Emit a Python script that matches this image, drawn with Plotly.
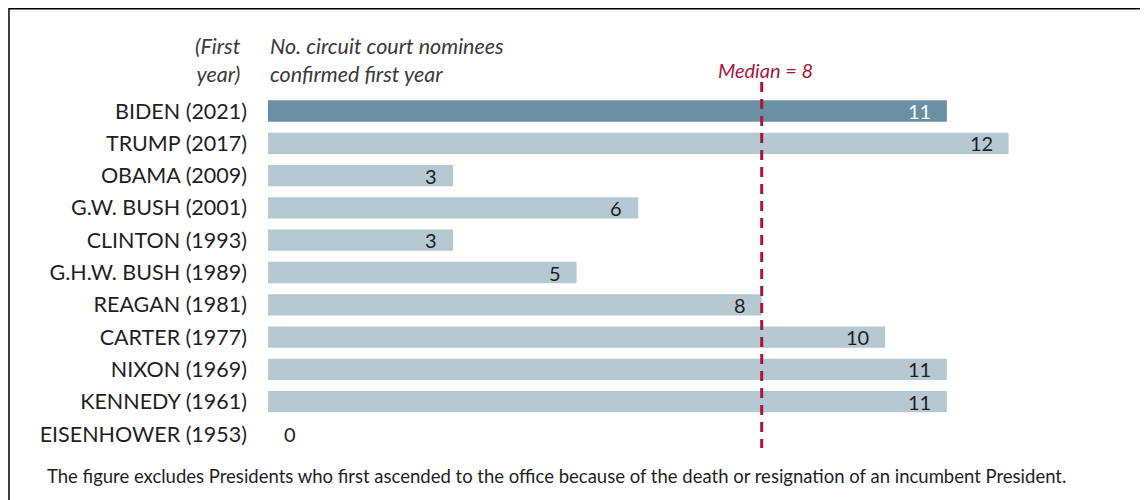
import plotly.graph_objects as go

presidents = ["BIDEN (2021)", "TRUMP (2017)", "OBAMA (2009)", "G.W. BUSH (2001)",
              "CLINTON (1993)", "G.H.W. BUSH (1989)", "REAGAN (1981)", "CARTER (1977)",
              "NIXON (1969)", "KENNEDY (1961)", "EISENHOWER (1953)"]
confirmed = [11, 12, 3, 6, 3, 5, 8, 10, 11, 11, 0]
median_value = 8

highlight = "BIDEN (2021)"
FONT = "Lato"
DARK = "#1F1F1F"
HEAD = "#3A3A3A"
RED = "#A6173A"

colors = ["#6B8FA3" if p == highlight else "#B6C8D2" for p in presidents]

fig = go.Figure()
fig.add_trace(go.Bar(
    x=confirmed, y=presidents, orientation="h",
    marker=dict(color=colors, line=dict(width=0)),
    width=0.66, hoverinfo="x+y",
))

# value labels
for p, v in zip(presidents, confirmed):
    if v == 0:
        fig.add_annotation(x=v, y=p, text=str(v), showarrow=False, xanchor="center",
                           xshift=22, font=dict(family=FONT, size=20, color=DARK))
    else:
        fig.add_annotation(x=v, y=p, text=str(v), showarrow=False, xanchor="right",
                           xshift=-14, font=dict(family=FONT, size=20,
                                                 color="white" if p == highlight else DARK))

# median line
fig.add_shape(type="line", x0=median_value, x1=median_value, y0=-0.9, y1=10.43,
              xref="x", yref="y", line=dict(color=RED, width=3, dash="10px,7px"))
fig.add_annotation(x=median_value, y=-1.27, text=f"<i>Median = {median_value}</i>",
                   showarrow=False, xanchor="center", xshift=4,
                   font=dict(family=FONT, size=20, color=RED))

# headers (one text block each)
head_left = "(First<br>year)"
head_right = "No. circuit court nominees<br>confirmed first year"
head_y = -1.58
fig.add_annotation(xref="paper", x=0, xshift=-25, y=head_y, yref="y",
                   text=f"<i>{head_left}</i>", showarrow=False, xanchor="right",
                   align="right", font=dict(family=FONT, size=21.5, color=HEAD))
fig.add_annotation(xref="paper", x=0, xshift=0, y=head_y, yref="y",
                   text=f"<i>{head_right}</i>", showarrow=False, xanchor="left",
                   align="left", font=dict(family=FONT, size=21.5, color=HEAD))

# footnote
fig.add_annotation(xref="paper", yref="paper", x=-0.258, y=-0.038,
                   text="The figure excludes Presidents who first ascended to the office because of the death or resignation of an incumbent President.",
                   showarrow=False, xanchor="left", yanchor="middle",
                   font=dict(family=FONT, size=18.5, color=DARK))

# border
fig.add_shape(type="rect", xref="paper", yref="paper", x0=-0.2998, x1=1.05,
              y0=-0.15, y1=1.0744, line=dict(color="black", width=1.5),
              fillcolor="rgba(0,0,0,0)", layer="above")

fig.update_layout(
    width=1148, height=500,
    margin=dict(l=260, r=24, t=32, b=48),
    plot_bgcolor="white", paper_bgcolor="white",
    showlegend=False,
    font=dict(family=FONT, color=DARK),
    xaxis=dict(range=[0, 14], visible=False, showgrid=False, zeroline=False),
    yaxis=dict(range=[10.805, -2.198], type="category", showgrid=False, zeroline=False,
               showline=False, ticks="", ticklabelstandoff=20,
               tickfont=dict(family=FONT, size=21.5, color=DARK)),
)

fig.write_html("out.html")
